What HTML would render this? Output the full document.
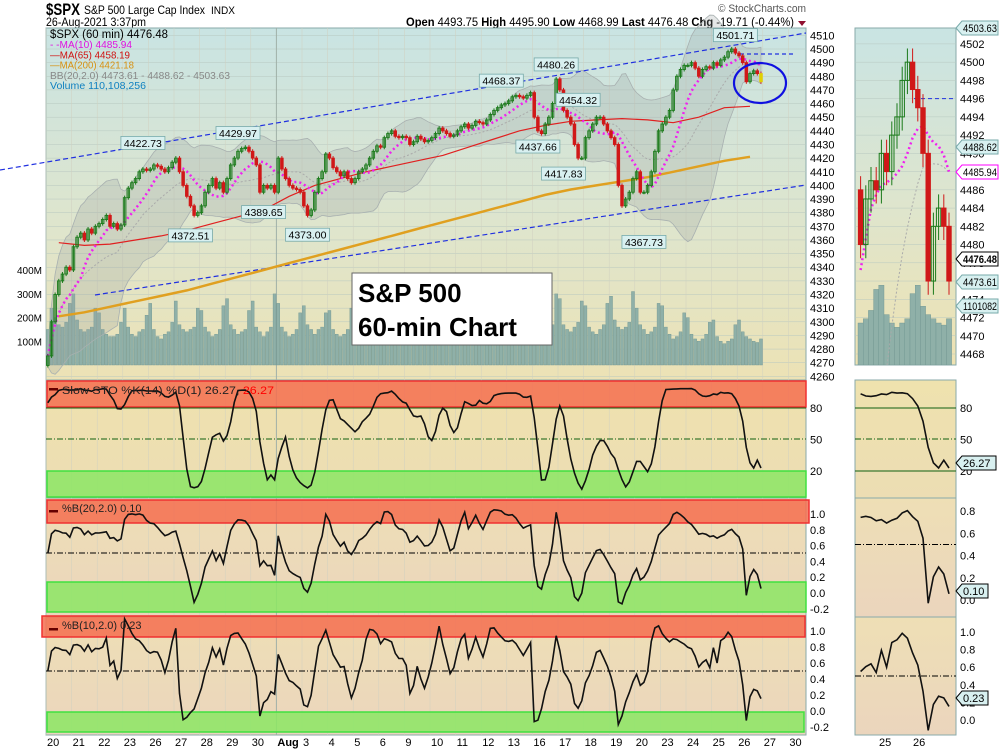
<!DOCTYPE html>
<html><head><meta charset="utf-8"><style>
body{margin:0;background:#fff;font-family:"Liberation Sans",sans-serif}
svg text{font-family:"Liberation Sans",sans-serif}
</style></head><body>
<svg id="c" width="1000" height="750" xmlns="http://www.w3.org/2000/svg">
<defs>
<linearGradient id="gm" x1="0" y1="0" x2="0" y2="1"><stop offset="0" stop-color="#c9e4e3"/><stop offset="0.55" stop-color="#dfe5cc"/><stop offset="1" stop-color="#eee2b2"/></linearGradient>
<linearGradient id="gs" x1="0" y1="0" x2="0" y2="1"><stop offset="0" stop-color="#efe2ae"/><stop offset="1" stop-color="#ecddb3"/></linearGradient>
<linearGradient id="gb" x1="0" y1="0" x2="0" y2="1"><stop offset="0" stop-color="#eedfb5"/><stop offset="1" stop-color="#ebd5bd"/></linearGradient>
</defs>
<g id="layer"></g>
</svg>
<script>
// ---- data ----
const dayLabels=['20','21','22','23','26','27','28','29','30','Aug','3','4','5','6','9','10','11','12','13','16','17','18','19','20','23','24','25','26','27','30'];
const closes=[
4275,4300,4320,4330,4335,4340,4338,
4355,4362,4365,4360,4368,4365,4370,
4372,4375,4378,4370,4372,4368,4371,
4391,4398,4402,4405,4410,4412,4411,
4412,4415,4414,4412,4410,4413,4417,
4420,4410,4400,4392,4385,4378,4380,
4385,4395,4400,4405,4398,4402,4395,
4405,4415,4420,4425,4427,4428,4425,
4420,4415,4395,4400,4398,4400,4395,
4420,4412,4405,4400,4398,4397,4395,
4385,4378,4382,4395,4405,4410,4423,
4420,4413,4410,4407,4410,4405,4402,
4405,4410,4412,4415,4420,4425,4429,
4428,4435,4438,4440,4436,4435,4436,
4435,4430,4432,4436,4434,4432,4433,
4435,4438,4442,4440,4438,4436,4437,
4440,4443,4445,4442,4444,4447,4446,
4445,4448,4452,4455,4457,4459,4460,
4462,4465,4466,4465,4464,4466,4468,
4450,4440,4438,4445,4450,4460,4478,
4470,4455,4450,4445,4430,4420,4420,
4435,4440,4445,4450,4450,4445,4440,
4435,4430,4400,4385,4390,4395,4405,
4410,4395,4395,4400,4410,4425,4440,
4445,4450,4455,4470,4480,4485,4488,
4488,4490,4486,4480,4485,4487,4486,
4490,4488,4492,4494,4498,4500,4497,
4495,4490,4476,4482,4484,4482,4476];
const volumes=[
150,240,200,170,160,180,260,
300,190,150,140,150,160,240,
220,150,130,120,120,130,180,
240,160,130,120,140,150,210,
260,150,120,110,130,140,180,
270,170,150,140,150,160,240,
230,160,140,120,130,150,250,
280,170,150,130,140,150,230,
270,160,140,120,140,160,300,
260,160,140,120,130,150,220,
250,170,150,130,150,160,220,
230,150,130,120,130,150,240,
260,160,140,120,130,150,230,
240,150,120,110,120,140,210,
220,140,120,100,110,130,200,
230,150,120,110,120,140,210,
240,150,130,110,120,140,230,
220,140,120,110,120,130,200,
210,130,110,100,110,130,180,
260,180,150,130,150,170,300,
280,170,150,140,160,180,270,
250,160,140,130,150,170,260,
290,190,160,150,160,180,310,
240,170,150,130,140,160,260,
250,160,130,110,120,140,220,
200,130,110,100,110,130,180,
190,120,100,90,100,110,170,
190,140,120,110,100,95,110];
const ma65=[4358,4356,4357,4360,4363,4367,4372,4377,4382,4392,4400,4405,4410,4414,4418,4422,4428,4434,4440,4444,4447,4448,4449,4448,4446,4450,4457,4458];
const ma200=[4304,4307,4311,4315,4319,4323,4328,4333,4338,4343,4348,4353,4358,4363,4368,4373,4378,4383,4388,4393,4397,4400,4403,4406,4410,4414,4418,4421];
const peakLabels=[['4422.73',26,4422.73,1],['4429.97',52,4429.97,1],['4372.51',39,4372.51,0],['4389.65',59,4389.65,0],['4373.00',71,4373,0],['4468.37',124,4468.37,1],['4480.26',139,4480.26,1],['4437.66',134,4437.66,0],['4454.32',145,4454.32,1],['4417.83',141,4417.83,0],['4367.73',163,4367.73,0],['4501.71',188,4501.71,1]];
const priceTicks=[4510,4500,4490,4480,4470,4460,4450,4440,4430,4420,4410,4400,4390,4380,4370,4360,4350,4340,4330,4320,4310,4300,4290,4280,4270,4260];
const rightTicks=[4502,4500,4498,4496,4494,4492,4490,4488,4486,4484,4482,4480,4478,4476,4474,4472,4470,4468];
const volTicks=[['400M',400],['300M',300],['200M',200],['100M',100]];

// ---- helpers ----
const NS='http://www.w3.org/2000/svg';
const L=document.getElementById('layer');
function mk(tag,attrs,parent,text){const e=document.createElementNS(NS,tag);for(const k in attrs)e.setAttribute(k,attrs[k]);if(text!==undefined)e.textContent=text;(parent||L).appendChild(e);return e;}
const X0=46,DW=25.6,BW=DW/7;
const bx=i=>X0+(i+0.5)*BW;
const py=p=>49+(4500-p)*1.364;
const vy=v=>365-v*0.237;
const N=closes.length;
const opens=closes.map((c,i)=>i?closes[i-1]:4268);
const highs=closes.map((c,i)=>Math.max(c,opens[i])+1.5);
const lows=closes.map((c,i)=>Math.min(c,opens[i])-1.5);
function sma(a,n,i){let s=0,k=0;for(let j=Math.max(0,i-n+1);j<=i;j++){s+=a[j];k++;}return s/k;}
function sd(a,n,i){const m=sma(a,n,i);let s=0,k=0;for(let j=Math.max(0,i-n+1);j<=i;j++){s+=(a[j]-m)**2;k++;}return Math.sqrt(s/k);}
const ma10=closes.map((c,i)=>sma(closes,10,i));
const bbU=closes.map((c,i)=>sma(closes,20,i)+2*Math.max(sd(closes,20,i),4));
const bbL=closes.map((c,i)=>sma(closes,20,i)-2*Math.max(sd(closes,20,i),4));
const bbM=closes.map((c,i)=>sma(closes,20,i));
const pb20=closes.map((c,i)=>(c-bbL[i])/(bbU[i]-bbL[i]));
const b10U=closes.map((c,i)=>sma(closes,10,i)+2*Math.max(sd(closes,10,i),3));
const b10L=closes.map((c,i)=>sma(closes,10,i)-2*Math.max(sd(closes,10,i),3));
const pb10=closes.map((c,i)=>(c-b10L[i])/(b10U[i]-b10L[i]));
const fk=closes.map((c,i)=>{let hh=-1e9,ll=1e9;for(let j=Math.max(0,i-13);j<=i;j++){hh=Math.max(hh,highs[j]);ll=Math.min(ll,lows[j]);}return (c-ll)/(hh-ll)*100;});
const sto=fk.map((v,i)=>sma(fk,3,i));
const dayX=d=>X0+(d+0.5)*DW;
function poly(pts,attrs,parent){const e=mk('polyline',Object.assign({points:pts.map(p=>p[0].toFixed(1)+','+p[1].toFixed(1)).join(' '),fill:'none'},attrs),parent);return e;}

// ---- header ----
let t=mk('text',{x:46,y:15,'font-size':17,'font-weight':'bold',textLength:34,lengthAdjust:'spacingAndGlyphs'},L,'$SPX');

t=mk('text',{x:84,y:14,'font-size':12,textLength:121,lengthAdjust:'spacingAndGlyphs'},L,'S&P 500 Large Cap Index');

mk('text',{x:211,y:14,'font-size':11,textLength:24,lengthAdjust:'spacingAndGlyphs'},L,'INDX');
t=mk('text',{x:46,y:26,'font-size':11.5,textLength:100,lengthAdjust:'spacingAndGlyphs'},L,'26-Aug-2021 3:37pm');

t=mk('text',{x:406,y:26,'font-size':11.5,textLength:388,lengthAdjust:'spacingAndGlyphs'},L);
t.innerHTML='<tspan font-weight="bold">Open</tspan> 4493.75 <tspan font-weight="bold">High</tspan> 4495.90 <tspan font-weight="bold">Low</tspan> 4468.99 <tspan font-weight="bold">Last</tspan> 4476.48 <tspan font-weight="bold">Chg</tspan> -19.71 (-0.44%)';

mk('polygon',{points:'798,21 806,21 802,26',fill:'#901030'});
t=mk('text',{x:718,y:12,'font-size':11,fill:'#555',textLength:88,lengthAdjust:'spacingAndGlyphs'},L,'© StockCharts.com');


// ---- panel backgrounds ----
function panel(x,y,w,h,fill,name){const r=mk('rect',{x,y,width:w,height:h,fill,stroke:'#8aa',"stroke-width":1});return r;}
panel(46,28,760,370,'url(#gm)','price-panel');
panel(46,380,760,118,'url(#gs)','sto-panel');
panel(46,498,760,119,'url(#gb)','pctb20-panel');
panel(46,617,760,118,'url(#gb)','pctb10-panel');
panel(855,28,101,337,'url(#gm)','zoom-price-panel');
panel(855,380,101,118,'url(#gs)','zoom-sto-panel');
panel(855,498,101,119,'url(#gb)','zoom-pctb20-panel');
panel(855,617,101,118,'url(#gb)','zoom-pctb10-panel');

priceTicks.forEach(p=>{mk('line',{x1:46,x2:806,y1:py(p),y2:py(p),stroke:'#b8c8c0','stroke-width':0.5});
 const tx=mk('text',{x:810,y:py(p)+4,'font-size':11},L,p);});
dayLabels.forEach((d,k)=>{const x=X0+k*DW;mk('line',{x1:x,x2:x,y1:28,y2:735,stroke:(d==='Aug'?'#a0b0a8':'#d0d0c0'),'stroke-width':d==='Aug'?1:0.5});
 const tx=mk('text',{x:x+1,y:746,'font-size':11,'font-weight':d==='Aug'?'bold':'normal'},L,d);});

volTicks.forEach(v=>{const tx=mk('text',{x:42,y:vy(v[1])+4,'font-size':10,'text-anchor':'end'},L,v[0]);});
volumes.forEach((v,i)=>{const r=mk('rect',{x:bx(i)-1.5,y:vy(v),width:3,height:365-vy(v),fill:'#8fb0a8',stroke:'#6f9590','stroke-width':0.4});
 });

let bbPts=closes.map((c,i)=>[bx(i),py(bbU[i])]).concat(closes.map((c,i)=>[bx(i),py(bbL[i])]).reverse());
let bb=mk('polygon',{points:bbPts.map(p=>p.join(',')).join(' '),fill:'rgba(150,160,160,0.25)',stroke:'#a8b0b0','stroke-width':0.8});

poly(closes.map((c,i)=>[bx(i),py(bbM[i])]),{stroke:'#aaa','stroke-dasharray':'2,2','stroke-width':1});

let ch=mk('line',{x1:0,y1:170,x2:806,y2:33,stroke:'#2030e0','stroke-width':1.2,'stroke-dasharray':'5,3'});

ch=mk('line',{x1:95,y1:295,x2:806,y2:185,stroke:'#2030e0','stroke-width':1.2,'stroke-dasharray':'5,3'});

mk('line',{x1:740,y1:54,x2:795,y2:54,stroke:'#2030e0','stroke-width':1.2,'stroke-dasharray':'4,3'});

let m=poly(ma200.map((v,d)=>[dayX(d),py(v)]),{stroke:'#e0a020','stroke-width':2.5});
m=poly(ma65.map((v,d)=>[dayX(d),py(v)]),{stroke:'#e02020','stroke-width':1.2});
m=poly(ma10.map((v,i)=>[bx(i),py(v)]),{stroke:'#f020f0','stroke-width':2.5,'stroke-dasharray':'2,3'});

function candle(x,o,c,h,l,w,yf,last){const up=c>=o;const col=last?'#e0d000':(up?'#1a7a1a':'#d01818');
 const wk=mk('line',{x1:x,x2:x,y1:yf(h),y2:yf(l),stroke:up?'#1a7a1a':'#d01818','stroke-width':1});
 
 const top=yf(Math.max(o,c)),bot=yf(Math.min(o,c));
 const r=mk('rect',{x:x-w/2,y:top,width:w,height:Math.max(1,bot-top),fill:up?(last?'#f0f060':'none'):col,stroke:up?'#1a7a1a':col,'stroke-width':0.9});
 }
closes.forEach((c,i)=>candle(bx(i),opens[i],c,highs[i],lows[i],2.6,py,i===N-1));

peakLabels.forEach(p=>{const x=bx(p[1]),y=py(p[2]);const ty=p[3]?y-18:y+6;
 const g=mk('g',{});
 mk('rect',{x:x-22,y:ty,width:44,height:13,fill:'#d8f0f0',stroke:'#7aa','stroke-width':0.8},g);
 mk('text',{x:x,y:ty+10.5,'font-size':10.5,'text-anchor':'middle'},g,p[0]);});

let ci=mk('ellipse',{cx:760,cy:83,rx:26,ry:20,fill:'none',stroke:'#1010e0','stroke-width':2.2});


const lg=[['$SPX (60 min) 4476.48','#000',11.5,118],['- -MA(10) 4485.94','#e010e0',10.5,82],['—MA(65) 4458.19','#d01010',10.5,80],['—MA(200) 4421.18','#d89010',10.5,84],['BB(20,2.0) 4473.61 - 4488.62 - 4503.63','#888',10.5,180],['Volume 110,108,256','#1080c0',10.5,96]];
lg.forEach((l,k)=>{const tx=mk('text',{x:50,y:38+k*10.2,'font-size':l[2],fill:l[1],textLength:l[3],lengthAdjust:'spacingAndGlyphs'},L,l[0]);});

let tb=mk('g',{});
mk('rect',{x:352,y:273,width:200,height:72,fill:'#fff',stroke:'#666','stroke-width':1},tb);
mk('text',{x:358,y:302,'font-size':26,'font-weight':'bold'},tb,'S&P 500');
mk('text',{x:358,y:336,'font-size':26,'font-weight':'bold'},tb,'60-min Chart');

// ---- indicator panels ----
const stoY=v=>471-(v-20)*63/60;
const b20Y=v=>593-v*79;
const b10Y=v=>711-v*80;
function zone(x,y,w,h,fill,stroke,name){const r=mk('rect',{x,y,width:w,height:h,fill,stroke,'stroke-width':1.5});}
zone(47,381,759,26,'rgba(245,110,80,0.85)','#f03030','sto-overbought-zone');
zone(47,471,759,26,'rgba(140,230,100,0.85)','#40e040','sto-oversold-zone');
zone(47,500,762,23,'rgba(245,110,80,0.85)','#f03030','pctb20-upper-zone');
zone(47,582,759,30,'rgba(140,230,100,0.85)','#40e040','pctb20-lower-zone');
zone(42,616,763,21,'rgba(245,110,80,0.85)','#f03030','pctb10-upper-zone');
zone(47,712,757,20,'rgba(140,230,100,0.85)','#40e040','pctb10-lower-zone');
mk('line',{x1:46,x2:806,y1:408,y2:408,stroke:'#106010'});
mk('line',{x1:46,x2:806,y1:439,y2:439,stroke:'#106010','stroke-dasharray':'6,2,1,2'});
mk('line',{x1:46,x2:806,y1:553,y2:553,stroke:'#000','stroke-dasharray':'6,2,1,2'});
mk('line',{x1:46,x2:806,y1:671,y2:671,stroke:'#000','stroke-dasharray':'6,2,1,2'});
[['80',80],['50',50],['20',20]].forEach(a=>{mk('text',{x:810,y:stoY(a[1])+4,'font-size':11},L,a[0]);});
['1.0','0.8','0.6','0.4','0.2','0.0','-0.2'].forEach(s=>{mk('text',{x:810,y:b20Y(+s)+4,'font-size':11},L,s);mk('text',{x:810,y:b10Y(+s)+4,'font-size':11},L,s);});
let s=poly(sto.map((v,i)=>[bx(i),stoY(v)]),{stroke:'#111','stroke-width':1.6});
s=poly(pb20.map((v,i)=>[bx(i),b20Y(v)]),{stroke:'#111','stroke-width':1.6});
s=poly(pb10.map((v,i)=>[bx(i),b10Y(v)]),{stroke:'#111','stroke-width':1.6});
mk('text',{x:62,y:394,'font-size':11,fill:'#222',textLength:212,lengthAdjust:'spacingAndGlyphs'},L).innerHTML='Slow STO %K(14) %D(1) 26.27, <tspan fill="#f00">26.27</tspan>';
mk('text',{x:62,y:512,'font-size':11,fill:'#222'},L,'%B(20,2.0) 0.10');
mk('text',{x:62,y:629,'font-size':11,fill:'#222'},L,'%B(10,2.0) 0.23');
[[383],[505],[623]].forEach(a=>mk('rect',{x:49,y:a[0]+5,width:9,height:2.5,fill:'#600'}));

// ---- right zoom panels ----
const Z0=N-18;
const zx=i=>858+(i-Z0)*5.2+2.6;
const zpy=p=>354-(p-4468)*9.12;
const zvy=v=>365-v*0.42;
rightTicks.forEach(p=>{mk('line',{x1:855,x2:956,y1:zpy(p),y2:zpy(p),stroke:'#b8c8c0','stroke-width':0.5});mk('text',{x:960,y:zpy(p)+4,'font-size':11},L,p);});
const cz=document.createElementNS(NS,'clipPath');cz.setAttribute('id','cz');document.querySelector('defs').appendChild(cz);mk('rect',{x:855,y:28,width:101,height:337},cz);
const zg=mk('g',{'clip-path':'url(#cz)'});
for(let i=Z0;i<N;i++){const h=zvy(volumes[i]);mk('rect',{x:zx(i)-2.6,y:h,width:5.2,height:365-h,fill:'#8fb0a8',stroke:'#6f9590','stroke-width':0.4},zg);}
poly(closes.slice(Z0).map((c,k)=>[zx(Z0+k),zpy(bbM[Z0+k])]),{stroke:'#aaa','stroke-dasharray':'2,2'},zg);
poly(closes.slice(Z0).map((c,k)=>[zx(Z0+k),zpy(ma10[Z0+k])]),{stroke:'#f020f0','stroke-width':2.5,'stroke-dasharray':'2,3'},zg);
mk('line',{x1:914,x2:956,y1:zpy(4496),y2:zpy(4496),stroke:'#2030e0','stroke-dasharray':'4,3'},zg);
for(let i=Z0;i<N;i++){const tmp=mk('g',{},zg);const up=closes[i]>=opens[i];
 mk('line',{x1:zx(i),x2:zx(i),y1:zpy(highs[i]),y2:zpy(lows[i]),stroke:up?'#1a7a1a':'#d01818'},tmp);
 const top=zpy(Math.max(opens[i],closes[i])),bot=zpy(Math.min(opens[i],closes[i]));
 const r=mk('rect',{x:zx(i)-2.2,y:top,width:4.4,height:Math.max(1,bot-top),fill:up?(i===N-1?'#f0f060':'none'):'#d01818',stroke:up?'#1a7a1a':'#d01818'},tmp);
 }
[['4503.63',28,'#d8f0f0','#7aa'],['4488.62',147,'#d8f0f0','#7aa'],['4485.94',172,'#fff','#f0f'],['4476.48',259,'#fff','#000'],['4473.61',282,'#d8f0f0','#7aa'],['1101082',306,'#d8f0f0','#7aa']].forEach(a=>{
 const g=mk('g',{});
 mk('polygon',{points:`956,${a[1]} 962,${a[1]-7} 998,${a[1]-7} 998,${a[1]+7} 962,${a[1]+7}`,fill:a[2],stroke:a[3]},g);
 mk('text',{x:963,y:a[1]+4,'font-size':11,'font-weight':a[0]==='4476.48'?'bold':'normal',textLength:34,lengthAdjust:'spacingAndGlyphs'},g,a[0]);});
const zsY=stoY, zb20=v=>600-v*111, zb10=v=>720-v*88;
mk('line',{x1:855,x2:956,y1:408,y2:408,stroke:'#106010'});mk('line',{x1:855,x2:956,y1:471,y2:471,stroke:'#106010'});
mk('line',{x1:855,x2:956,y1:439,y2:439,stroke:'#106010','stroke-dasharray':'6,2,1,2'});
mk('line',{x1:855,x2:956,y1:zb20(0.5),y2:zb20(0.5),stroke:'#000','stroke-dasharray':'6,2,1,2'});
mk('line',{x1:855,x2:956,y1:zb10(0.5),y2:zb10(0.5),stroke:'#000','stroke-dasharray':'6,2,1,2'});
[80,50].forEach(v=>mk('text',{x:960,y:stoY(v)+4,'font-size':11},L,v));
mk('text',{x:960,y:stoY(20)+4,'font-size':11},L,'20');
['0.8','0.6','0.4','0.2','0.0'].forEach(v=>mk('text',{x:960,y:zb20(+v)+4,'font-size':11},L,v));
['1.0','0.8','0.6','0.4','0.2','0.0'].forEach(v=>mk('text',{x:960,y:zb10(+v)+4,'font-size':11},L,v));
s=poly(sto.slice(Z0).map((v,k)=>[zx(Z0+k),zsY(v)]),{stroke:'#111','stroke-width':1.6});
s=poly(pb20.slice(Z0).map((v,k)=>[zx(Z0+k),zb20(v)]),{stroke:'#111','stroke-width':1.6});
s=poly(pb10.slice(Z0).map((v,k)=>[zx(Z0+k),zb10(v)]),{stroke:'#111','stroke-width':1.6});
[['26.27',463],['0.10',591],['0.23',698]].forEach(a=>{const g=mk('g',{});
 mk('polygon',{points:`956,${a[1]} 962,${a[1]-7} ${a[0].length>4?996:988},${a[1]-7} ${a[0].length>4?996:988},${a[1]+7} 962,${a[1]+7}`,fill:'#d8f0f0',stroke:'#000'},g);
 mk('text',{x:963,y:a[1]+4,'font-size':11},g,a[0]);});
mk('text',{x:879,y:746,'font-size':11},L,'25');mk('text',{x:913,y:746,'font-size':11},L,'26');
</script>
</body></html>
